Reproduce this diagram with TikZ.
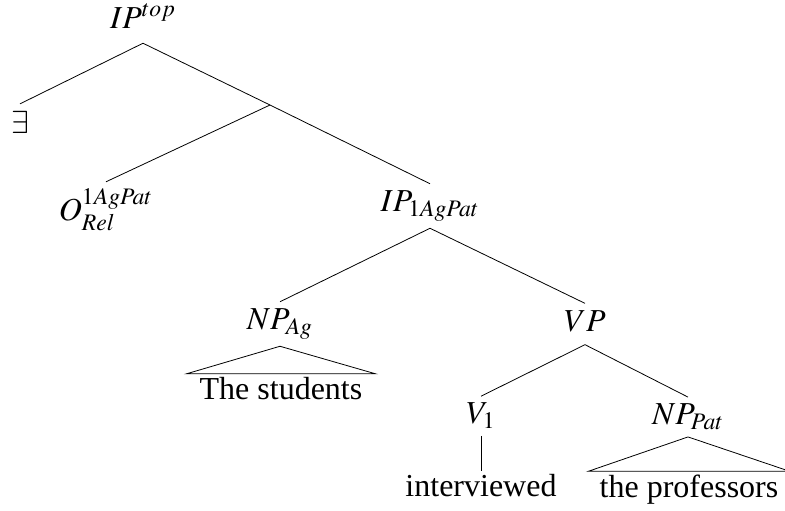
\documentclass[tikz,border=0pt]{standalone}
\usepackage{mathptmx}
\usepackage{fontspec}
\setmainfont{Liberation Serif}
\begin{document}
\begin{tikzpicture}[x=0.5pt,y=-0.5pt,
  every node/.style={font=\fontsize{16pt}{19pt}\selectfont},
  cat/.style={inner sep=0pt,outer sep=3.5pt},
  word/.style={inner xsep=4.5pt,inner ysep=0pt,outer sep=2pt}]
\useasboundingbox (0,0) rectangle (785,510);

\node[cat] (top) at (143,16) {$IP^{top}$};
\node[cat] (ex) at (20,122) {$\exists$};
\coordinate (mid) at (270,105);
\node[cat] (o) at (106,210) {$O^{1AgPat}_{Rel}$};
\node[cat] (ip) at (430,206) {$IP_{1AgPat}$};
\node[cat] (npag) at (280,324) {$NP_{Ag}$};
\node[cat] (vp) at (585,321) {$VP$};
\node[cat] (v) at (481,416) {$V_1$};
\node[cat] (nppat) at (688,417) {$NP_{Pat}$};

\node[word] (stud) at (281,389) {The students};
\node[word] (intv) at (481,486) {interviewed};
\node[word,inner xsep=3.75pt] (prof) at (689,490) {the professors};

\draw ([yshift=-4pt]top.south) -- (ex.north);
\draw ([yshift=-4pt]top.south) -- (mid) -- (ip.north);
\draw (mid) -- (o.north);

\draw (ip.south) -- (npag.north);
\draw (ip.south) -- (vp.north);

\draw (npag.south) -- (stud.north west) -- (stud.north east) -- cycle;

\draw ([yshift=-3pt]vp.south) -- (v.north);
\draw ([yshift=-3pt]vp.south) -- (nppat.north);

\draw (v.south) -- (intv.north);
\draw (nppat.south) -- (prof.north west) -- (prof.north east) -- cycle;
\end{tikzpicture}
\end{document}
